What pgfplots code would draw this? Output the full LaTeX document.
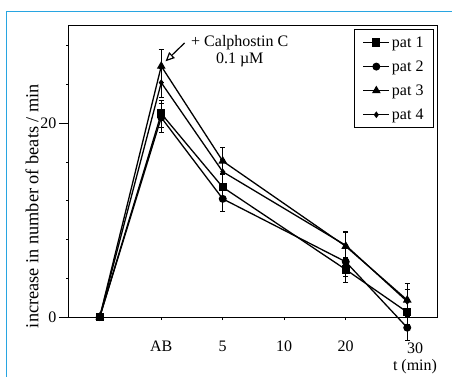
\documentclass[border=0pt]{standalone}
\usepackage{pgfplots}
\pgfplotsset{compat=1.18}
\usepackage{fontspec}
\setmainfont{Liberation Serif}
\usetikzlibrary{arrows.meta}
\definecolor{framecyan}{RGB}{40,165,225}
\begin{document}
\begin{tikzpicture}
\useasboundingbox (-69pt,-59pt) rectangle (383pt,317pt);
\draw[framecyan, line width=1pt] (-62pt,-70pt) -- (-62pt,306pt) -- (390pt,306pt);
\begin{axis}[
  scale only axis, width=369pt, height=292pt,
  xmin=-0.5, xmax=5.5, ymin=0, ymax=30.15,
  clip=false,
  axis line style={line width=1pt},
  tick align=outside, xtick pos=bottom, ytick pos=left,
  xtick={1,2,3,4,5}, xticklabels={AB,5,10,20,{}},
  ytick={0,20}, minor ytick={4,8,12,16,24,28},
  major tick length=3pt, minor tick length=2.5pt,
  tick style={black, line width=0.8pt},
  /pgf/number format/assume math mode=true,
  ticklabel style={font=\fontsize{16}{19}\selectfont},
  xticklabel style={yshift=-17pt},
  yticklabel style={xshift=-6pt},
  extra y ticks={0,20}, extra y tick labels={},
  extra y tick style={major tick length=10pt},
  xlabel={30\\t (min)},
  xlabel style={at={(axis description cs:0.9377,0)}, anchor=north, yshift=-26pt, inner sep=0pt, align=center, font=\fontsize{16}{17}\selectfont},
  ylabel={increase in number of beats / min},
  ylabel style={at={(axis description cs:-0.1,0.38)}, anchor=center, font=\fontsize{18.3}{21}\selectfont},
  legend style={at={(0.989,0.986)}, anchor=north east, draw=black, line width=0.8pt,
    font=\fontsize{16}{19}\selectfont, row sep=8pt, inner xsep=8pt, inner ysep=5pt, cells={anchor=west}},
  legend image code/.code={\draw[mark repeat=2,mark phase=2] plot coordinates {(0pt,0pt) (13pt,0pt) (26pt,0pt)};},
  every axis plot/.append style={black, line width=1.3pt, mark options={solid, fill=black, draw=black}},
  error bars/error bar style={line width=0.8pt},
  error bars/error mark options={rotate=90, mark size=2.5pt, line width=0.8pt},
]
\addplot[black, mark=square*, mark size=3.5pt, error bars/.cd, y dir=both, y explicit]
  coordinates {(0,0) +- (0,0) (1,21.0) +- (0,1.4) (2,13.4) +- (0,1.4) (4,4.9) +- (0,1.3) (5,0.5) +- (0,1.3)};
\addlegendentry{pat 1}
\addplot[black, mark=*, mark size=3.3pt, error bars/.cd, y dir=both, y explicit]
  coordinates {(0,0) +- (0,0) (1,20.6) +- (0,1.5) (2,12.2) +- (0,1.3) (4,5.7) +- (0,1.5) (5,-1.1) +- (0,1.3)};
\addlegendentry{pat 2}
\addplot[black, mark=triangle*, mark size=3.8pt, error bars/.cd, y dir=both, y explicit]
  coordinates {(0,0) +- (0,0) (1,25.9) +- (0,1.7) (2,16.1) +- (0,1.4) (4,7.3) +- (0,1.5) (5,1.75) +- (0,1.7)};
\addlegendentry{pat 3}
\addplot[black, mark=diamond*, mark size=2.3pt, error bars/.cd, y dir=both, y explicit]
  coordinates {(0,0) +- (0,0) (1,24.2) +- (0,1.5) (2,15.0) +- (0,1.3) (4,7.4) +- (0,1.3) (5,1.6) +- (0,1.3)};
\addlegendentry{pat 4}
\draw[-{Triangle[open,length=9pt,width=8pt]}, line width=1.2pt] (axis cs:1.38,28.3) -- (axis cs:1.07,26.4);
\node[align=center, font=\fontsize{16}{17}\selectfont, inner sep=0pt] at (axis cs:2.276,27.4) {+ Calphostin C\\0.1 µM};
\end{axis}
\end{tikzpicture}
\end{document}
